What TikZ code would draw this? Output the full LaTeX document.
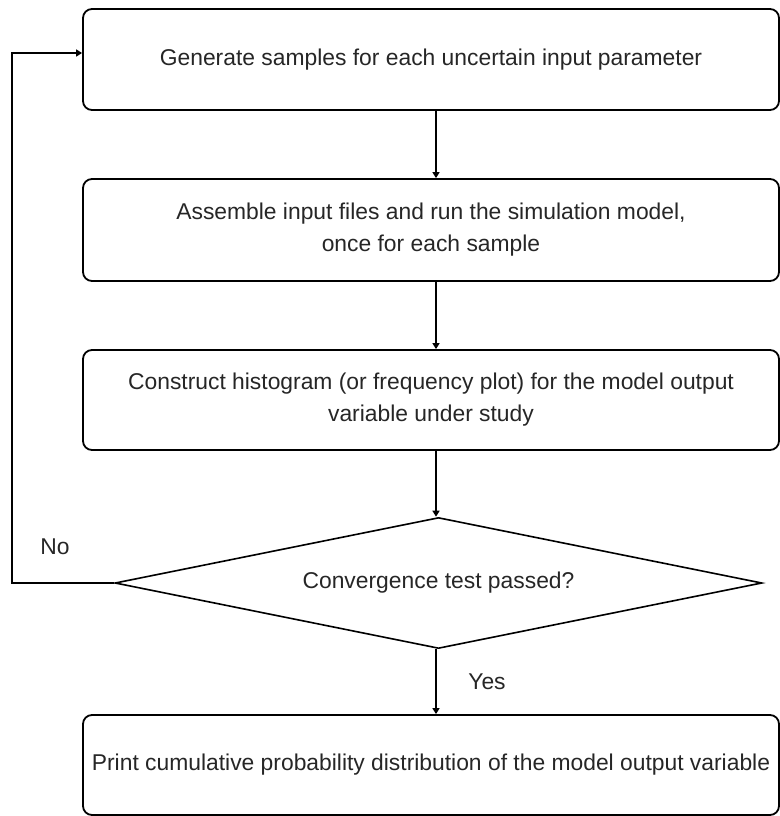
\documentclass[tikz,border=0pt]{standalone}
\usepackage{fontspec}
\setmainfont{Liberation Sans}
\usetikzlibrary{shapes.geometric,arrows.meta}
\begin{document}
\begin{tikzpicture}[x=1pt,y=-1pt,
  every node/.style={font=\fontsize{22.85}{32}\selectfont, text=black!85},
  box/.style={draw, line width=1.8pt, rounded corners=9pt, minimum width=696pt, inner sep=0pt, align=center},
  dec/.style={draw, line width=1.6pt, shape=diamond, aspect=4.94, minimum width=647pt, minimum height=131pt, inner sep=0pt},
  arr/.style={line width=1.6pt, -{Triangle[width=7pt,length=6pt]}},
  lbl/.style={inner sep=0pt}]
\useasboundingbox (0,0) rectangle (779,816);
\node[box, minimum height=101pt] (b1) at (431,59.5) {Generate samples for each uncertain input parameter};
\node[box, minimum height=102pt] (b2) at (431,230) {Assemble input files and run the simulation model,\\once for each sample};
\node[box, minimum height=100pt] (b3) at (431,400) {Construct histogram (or frequency plot) for the model output\\variable under study};
\node[dec] (d) at (438.5,583) {Convergence test passed?};
\node[box, minimum height=100pt] (b5) at (431,765) {Print cumulative probability distribution of the model output variable};
\coordinate (ax) at (436,0);
\coordinate (lp) at (12,53);
\draw[arr] (b1.south -| ax) -- (b2.north -| ax);
\draw[arr] (b2.south -| ax) -- (b3.north -| ax);
\draw[arr] (b3.south -| ax) -- (d.north -| ax);
\draw[arr] (d.south -| ax) -- (b5.north -| ax);
\draw[arr] (d.west) -| (lp) -- (lp -| b1.west);
\node[lbl] (no) at (55,547) {No};
\node[lbl] (yes) at (487,682) {Yes};
\end{tikzpicture}
\end{document}
